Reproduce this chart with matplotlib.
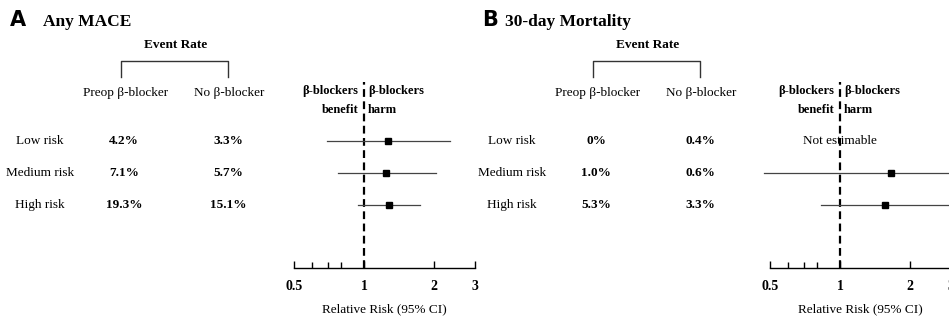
import matplotlib
matplotlib.use("Agg")
import matplotlib.pyplot as plt
from matplotlib.ticker import FixedLocator, NullFormatter

plt.rcParams['font.family'] = ['Liberation Serif', 'DejaVu Serif']

risk_groups = ['Low risk', 'Medium risk', 'High risk']

# panel A: any MACE
mace_preop = ['4.2%', '7.1%', '19.3%']
mace_none = ['3.3%', '5.7%', '15.1%']
mace_rr = [1.27, 1.24, 1.28]
mace_lo = [0.69, 0.77, 0.94]
mace_hi = [2.34, 2.04, 1.74]

# panel B: 30-day mortality (low risk not estimable)
mort_preop = ['0%', '1.0%', '5.3%']
mort_none = ['0.4%', '0.6%', '3.3%']
mort_rr = [None, 1.66, 1.56]
mort_lo = [None, 0.47, 0.83]
mort_hi = [None, 4.5, 3.8]

major_ticks = [0.5, 1, 2, 3]
major_labels = ['0.5', '1', '2', '3']
minor_ticks = [0.6, 0.7, 0.8]

W, H = 949, 325
fig = plt.figure(figsize=(W / 100, H / 100), dpi=100)

# overlay in pixel units for the table text
txt = fig.add_axes([0, 0, 1, 1])
txt.set_xlim(0, W)
txt.set_ylim(H, 0)
txt.axis('off')

row_y = [141, 173, 205]


def panel(x0, letter, title, title_x, preop, none, rr, lo, hi, ax_left):
    txt.text(x0 + 10, 20, letter, family='DejaVu Sans', weight='bold',
             fontsize=15, va='center', ha='left')
    txt.text(x0 + title_x, 22, title, weight='bold', fontsize=12.5,
             va='center', ha='left')
    c1, c2 = x0 + 124, x0 + 228
    txt.text((c1 + c2) / 2, 45, 'Event Rate', weight='bold', fontsize=9.5,
             ha='center', va='center')
    txt.plot([c1 - 3, c1 - 3, c2, c2], [77, 61, 61, 77], color='#333333', lw=1)
    txt.text(c1 + 2, 93, 'Preop β-blocker', fontsize=9.5, ha='center', va='center')
    txt.text(c2 + 1, 93, 'No β-blocker', fontsize=9.5, ha='center', va='center')
    for i, g in enumerate(risk_groups):
        txt.text(x0 + 40, row_y[i], g, fontsize=9.5, ha='center', va='center')
        txt.text(c1, row_y[i], preop[i], fontsize=9.5, weight='bold',
                 ha='center', va='center')
        txt.text(c2, row_y[i], none[i], fontsize=9.5, weight='bold',
                 ha='center', va='center')

    ax = fig.add_axes([ax_left / W, (H - 268) / H, 181 / W, (268 - 82) / H])
    ax.set_xscale('log')
    ax.set_xlim(0.5, 3)
    ax.set_ylim(3.97, -1.84)
    for s in ['top', 'left', 'right']:
        ax.spines[s].set_visible(False)
    ax.spines['bottom'].set_linewidth(1)
    ax.set_yticks([])
    ax.xaxis.set_major_locator(FixedLocator(major_ticks))
    ax.set_xticklabels(major_labels, fontweight='bold', fontsize=10)
    ax.xaxis.set_minor_locator(FixedLocator(minor_ticks))
    ax.xaxis.set_minor_formatter(NullFormatter())
    ax.tick_params(axis='x', which='major', direction='in', length=5, width=1, pad=9)
    ax.tick_params(axis='x', which='minor', direction='in', length=4, width=1)
    ax.set_xlabel('Relative Risk (95% CI)', fontsize=9.5, labelpad=7)
    ax.patch.set_alpha(0)

    ax.axvline(1, color='black', lw=1.6, ls=(0, (3.5, 2)), clip_on=False)
    for lab, dx, y, ha in [('β-blockers', -4, -1.55, 'right'),
                           ('β-blockers', 3, -1.55, 'left'),
                           ('benefit', -4, -0.98, 'right'),
                           ('harm', 3, -0.98, 'left')]:
        ax.annotate(lab, xy=(1, y), xytext=(dx, 0), textcoords='offset points',
                    weight='bold', fontsize=9, ha=ha, va='center')

    for i in range(len(risk_groups)):
        if rr[i] is None:
            ax.text(1, i, 'Not estimable', fontsize=9.5, ha='center', va='center')
            continue
        ax.plot([lo[i], hi[i]], [i, i], color='#444444', lw=0.9, clip_on=False)
        ax.plot(rr[i], i, marker='s', color='black', ms=5)
    return ax


panel(0, 'A', 'Any MACE', 43, mace_preop, mace_none, mace_rr, mace_lo, mace_hi, 294)
panel(472, 'B', '30-day Mortality', 33, mort_preop, mort_none, mort_rr, mort_lo, mort_hi, 770)

fig.savefig('out.png', dpi=100)
